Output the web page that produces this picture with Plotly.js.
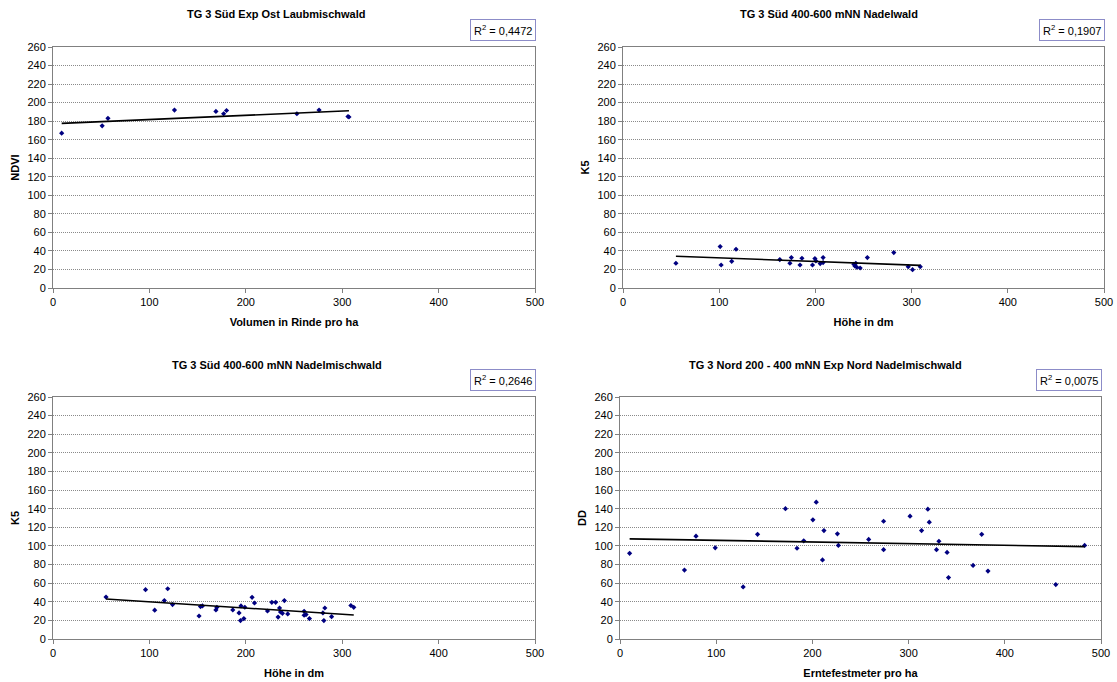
<!DOCTYPE html>
<html>
<head>
<meta charset="utf-8">
<script src="https://cdn.plot.ly/plotly-3.0.1.min.js"></script>
<style>
  html, body { margin: 0; padding: 0; background: #ffffff; }
  #chart { width: 1117px; height: 682px; }
</style>
</head>
<body>
<div id="chart"></div>
<script>
// ---------- DATA ----------
const chartTitles = [
  "TG 3 Süd Exp Ost Laubmischwald",
  "TG 3 Süd 400-600 mNN Nadelwald",
  "TG 3 Süd 400-600 mNN Nadelmischwald",
  "TG 3 Nord 200 - 400 mNN Exp Nord Nadelmischwald"
];
const xTitles = ["Volumen in Rinde pro ha", "Höhe in dm", "Höhe in dm", "Erntefestmeter pro ha"];
const yTitles = ["NDVI", "K5", "K5", "DD"];
const r2Labels = ["R<sup>2</sup> = 0,4472", "R<sup>2</sup> = 0,1907", "R<sup>2</sup> = 0,2646", "R<sup>2</sup> = 0,0075"];

// Panel 1: Volumen in Rinde pro ha vs NDVI
const p1x = [9, 51, 57, 126, 169, 177, 180, 253, 276, 306, 307];
const p1y = [167, 175, 183, 192, 190.5, 188, 191.5, 188, 192, 185, 184.5];

// Panel 2: Höhe in dm vs K5 (Nadelwald)
const p2x = [55, 101, 102, 113, 117.5, 163, 173.5, 175, 184, 186, 197, 199.5, 200.5, 205, 208, 208, 240, 241, 242, 243, 246.5, 254, 281.5, 296.5, 301, 309];
const p2y = [26.7, 44.7, 24.8, 28.8, 41.8, 30.7, 26.7, 32.8, 24.8, 32.1, 24.8, 31.7, 29.2, 26.3, 32.8, 27.4, 25.6, 23.8, 26.7, 22.4, 21.6, 32.8, 38.2, 23, 19.8, 23];

// Panel 3: Höhe in dm vs K5 (Nadelmischwald)
const p3x = [55, 96, 105.5, 115.5, 119, 124, 151.5, 153, 155, 169, 170, 186.5, 193, 195, 194.5, 198, 199, 206.5, 209, 222.5, 227, 231, 233.5, 235, 236, 238, 240, 243.5, 260.5, 260.5, 262.5, 266, 281, 282, 280, 289, 309, 312];
const p3y = [45, 53, 31, 41.3, 54, 37, 24.7, 34.8, 35.5, 31.2, 34, 31.2, 28, 35.5, 19.8, 21.9, 34.1, 44.8, 38.7, 30.1, 39.4, 39.4, 23.6, 33.3, 29, 27.6, 41.3, 26.9, 29.8, 25.5, 26.2, 21.9, 19.8, 33.3, 28, 24, 36, 34];

// Panel 4: Erntefestmeter pro ha vs DD
const p4x = [10, 67, 79, 99, 128, 143, 172, 184, 191, 200.5, 204, 212, 210.5, 226, 227, 258.5, 274, 274, 301.5, 313.5, 320, 321.5, 329, 331.5, 340, 341.5, 367, 376, 382.5, 453, 483];
const p4y = [92, 74, 110.5, 98, 56, 112.5, 140, 97.5, 105.5, 128, 147, 116.5, 85, 113, 100.5, 107, 126.5, 96, 132, 116.5, 139.5, 125.5, 96, 105, 93, 66, 79, 112.5, 73, 58.5, 100.5];

const panelsX = [p1x, p2x, p3x, p4x];
const panelsY = [p1y, p2y, p3y, p4y];

// ---------- LAYOUT GEOMETRY (pixels) ----------
const W = 1117, H = 682;
const plotBoxes = [
  {l: 53, r: 535, t: 47, b: 288},
  {l: 623, r: 1104, t: 47, b: 288},
  {l: 53, r: 535, t: 397, b: 639},
  {l: 620, r: 1101, t: 397, b: 639}
];
const titleCenters = [{x: 276, y: 14}, {x: 829, y: 14}, {x: 277, y: 365}, {x: 825, y: 365}];

function linreg(xs, ys) {
  const n = xs.length;
  let sx = 0, sy = 0, sxx = 0, sxy = 0;
  for (let i = 0; i < n; i++) { sx += xs[i]; sy += ys[i]; sxx += xs[i]*xs[i]; sxy += xs[i]*ys[i]; }
  const m = (n*sxy - sx*sy) / (n*sxx - sx*sx);
  const c = (sy - m*sx) / n;
  return {m, c};
}

const FONT = "Liberation Sans, Arial, sans-serif";
const traces = [];
const layout = {
  width: W, height: H,
  margin: {l: 0, r: 0, t: 0, b: 0},
  paper_bgcolor: "#ffffff",
  plot_bgcolor: "#ffffff",
  showlegend: false,
  font: {family: FONT, size: 11, color: "#000000"},
  annotations: []
};

for (let i = 0; i < 4; i++) {
  const s = i === 0 ? "" : String(i + 1);
  const xs = panelsX[i], ys = panelsY[i];
  const reg = linreg(xs, ys);
  const xmin = Math.min(...xs), xmax = Math.max(...xs);
  traces.push({
    type: "scatter", mode: "markers", x: xs, y: ys,
    xaxis: "x" + s, yaxis: "y" + s,
    marker: {symbol: "diamond", size: 4, color: "#000080"},
    hoverinfo: "x+y"
  });
  traces.push({
    type: "scatter", mode: "lines",
    x: [xmin, xmax], y: [reg.m*xmin + reg.c, reg.m*xmax + reg.c],
    xaxis: "x" + s, yaxis: "y" + s,
    line: {color: "#000000", width: 1.6},
    hoverinfo: "skip"
  });
  const pb = plotBoxes[i];
  layout["xaxis" + s] = {
    domain: [pb.l / W, pb.r / W],
    anchor: "y" + s,
    range: [0, 500], dtick: 100, tick0: 0,
    showgrid: false, zeroline: false,
    showline: true, mirror: true, linecolor: "#808080", linewidth: 1,
    ticks: "outside", ticklen: 4, tickcolor: "#808080",
    tickfont: {family: FONT, size: 11, color: "#000000"},
    title: {text: "<b>" + xTitles[i] + "</b>", font: {family: FONT, size: 11, color: "#000000"}, standoff: 11},
    automargin: false, fixedrange: true
  };
  layout["yaxis" + s] = {
    domain: [1 - pb.b / H, 1 - pb.t / H],
    anchor: "x" + s,
    range: [0, 260], dtick: 20, tick0: 0,
    showgrid: true, gridcolor: "#8a8a8a", griddash: "1px,1px", gridwidth: 1,
    zeroline: false,
    showline: true, mirror: true, linecolor: "#808080", linewidth: 1,
    ticks: "outside", ticklen: 4, tickcolor: "#808080",
    tickfont: {family: FONT, size: 11, color: "#000000"},
    title: {text: "<b>" + yTitles[i] + "</b>", font: {family: FONT, size: 11, color: "#000000"}, standoff: 5},
    automargin: false, fixedrange: true
  };
  // chart title
  layout.annotations.push({
    xref: "paper", yref: "paper",
    x: titleCenters[i].x / W, y: 1 - titleCenters[i].y / H,
    xanchor: "center", yanchor: "middle",
    text: "<b>" + chartTitles[i] + "</b>",
    showarrow: false,
    font: {family: FONT, size: 11, color: "#000000"}
  });
  // R² box
  layout.annotations.push({
    xref: "paper", yref: "paper",
    x: (pb.r + 1) / W, y: 1 - (pb.t - 28) / H,
    xanchor: "right", yanchor: "top",
    text: r2Labels[i],
    showarrow: false,
    font: {family: FONT, size: 11, color: "#000000"},
    bordercolor: "#8c8cc8", borderwidth: 1, borderpad: 3,
    bgcolor: "#ffffff"
  });
}

Plotly.newPlot("chart", traces, layout, {staticPlot: true, displayModeBar: false});
</script>
</body>
</html>
